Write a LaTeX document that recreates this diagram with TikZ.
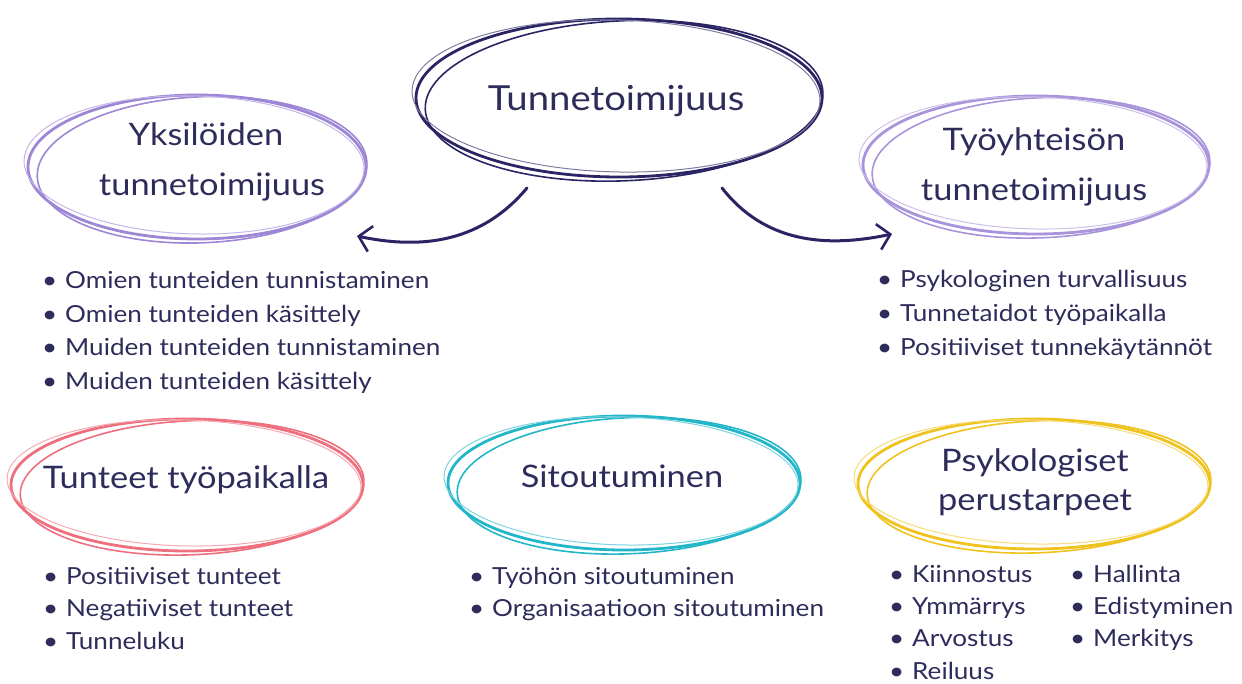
\documentclass[tikz,border=0pt]{standalone}
\usepackage{fontspec}
\setmainfont{Lato}[FakeStretch=1.11]
\usetikzlibrary{shapes.geometric,arrows.meta}
\definecolor{navy}{HTML}{2A2464}
\definecolor{txt}{HTML}{2E2C5A}
\definecolor{lav}{HTML}{9D86D6}
\definecolor{lavb}{HTML}{A994DC}
\definecolor{pinkc}{HTML}{EE6F7E}
\definecolor{cyanc}{HTML}{22B6C8}
\definecolor{yel}{HTML}{F0C21E}
\tikzset{
  ttl/.style={anchor=base, text=txt, inner sep=0pt, font=\fontsize{31}{36}\selectfont},
  ttlbig/.style={ttl, font=\fontsize{34.5}{40}\selectfont},
  itm/.style={anchor=base west, text=txt, inner sep=0pt, font=\fontsize{23.5}{28}\selectfont},
  bub/.style={ellipse, inner sep=0pt},
  arr/.style={navy, line width=3pt, line cap=round, -{Straight Barb[length=12pt,width=26pt,line width=2.6pt]}},
}
\newcommand{\sketchy}[4]{% center, rx, ry, color
  \draw[#4, line width=2.8pt] (#1) ellipse [x radius=#2, y radius=#3];
  \draw[#4, line width=1.6pt, rotate around={2.5:(#1)}] ([xshift=5pt,yshift=-3pt]#1) ellipse [x radius=#2-4, y radius=#3+1];
  \draw[#4!60, line width=1pt, rotate around={-1.5:(#1)}] ([xshift=-3pt,yshift=2pt]#1) ellipse [x radius=#2+1, y radius=#3-3];
}
\newcommand{\itemrow}[4]{% name, x, y, text
  \node[itm] (#1) at (#2,#3) {\makebox[23pt][l]{•}#4};
}
\begin{document}
\begin{tikzpicture}[x=1pt,y=-1pt]
\useasboundingbox (0,0) rectangle (1242,684);
% bubbles
\node[bub, minimum width=410pt, minimum height=162pt] (tc) at (619,98) {};
\sketchy{tc.center}{203}{79}{navy}
\node[ttlbig] (tcA) at (616,111) {Tunnetoimijuus};

\node[bub, minimum width=342pt, minimum height=148pt] (yk) at (197,167) {};
\sketchy{yk.center}{169}{72}{lav}
\node[ttl] (ykA) at (206,146) {Yksilöiden};
\node[ttl] (ykB) at (212,196) {tunnetoimijuus};

\node[bub, minimum width=350pt, minimum height=142pt] (ty) at (1036,165) {};
\sketchy{ty.center}{173}{69}{lavb}
\node[ttl] (tyA) at (1034,151) {Työyhteisön};
\node[ttl] (tyB) at (1034,201) {tunnetoimijuus};

\node[bub, minimum width=356pt, minimum height=136pt] (tt) at (187,485) {};
\sketchy{tt.center}{176}{66}{pinkc}
\node[ttl] (ttA) at (186,488) {Tunteet työpaikalla};

\node[bub, minimum width=356pt, minimum height=138pt] (si) at (624,483) {};
\sketchy{si.center}{176}{67}{cyanc}
\node[ttl] (siA) at (622,487) {Sitoutuminen};

\node[bub, minimum width=356pt, minimum height=134pt] (ps) at (1034,484) {};
\sketchy{ps.center}{176}{65}{yel}
\node[ttl] (psA) at (1035,471) {Psykologiset};
\node[ttl] (psB) at (1035,510) {perustarpeet};
% arrows
\coordinate (al0) at (527,188);
\coordinate (al1) at (357,236);
\coordinate (ar0) at (722,188);
\coordinate (ar1) at (892,234);
\draw[arr] (al0) to[out=-130, in=-12] (al1);
\draw[arr] (ar0) to[out=-52, in=192] (ar1);
% lists
\itemrow{a1}{42}{289}{Omien tunteiden tunnistaminen}
\itemrow{a2}{42}{322.5}{Omien tunteiden käsittely}
\itemrow{a3}{42}{356}{Muiden tunteiden tunnistaminen}
\itemrow{a4}{42}{389.5}{Muiden tunteiden käsittely}
\itemrow{b1}{877}{288}{Psykologinen turvallisuus}
\itemrow{b2}{877}{322}{Tunnetaidot työpaikalla}
\itemrow{b3}{877}{356}{Positiiviset tunnekäytännöt}
\itemrow{c1}{43}{584}{Positiiviset tunteet}
\itemrow{c2}{43}{616}{Negatiiviset tunteet}
\itemrow{c3}{43}{649}{Tunneluku}
\itemrow{d1}{469}{584}{Työhön sitoutuminen}
\itemrow{d2}{469}{616}{Organisaatioon sitoutuminen}
\itemrow{e1}{889}{582}{Kiinnostus}
\itemrow{e2}{889}{614}{Ymmärrys}
\itemrow{e3}{889}{646.5}{Arvostus}
\itemrow{e4}{889}{679}{Reiluus}
\itemrow{f1}{1070}{582}{Hallinta}
\itemrow{f2}{1070}{614}{Edistyminen}
\itemrow{f3}{1070}{646.5}{Merkitys}
\end{tikzpicture}
\end{document}
